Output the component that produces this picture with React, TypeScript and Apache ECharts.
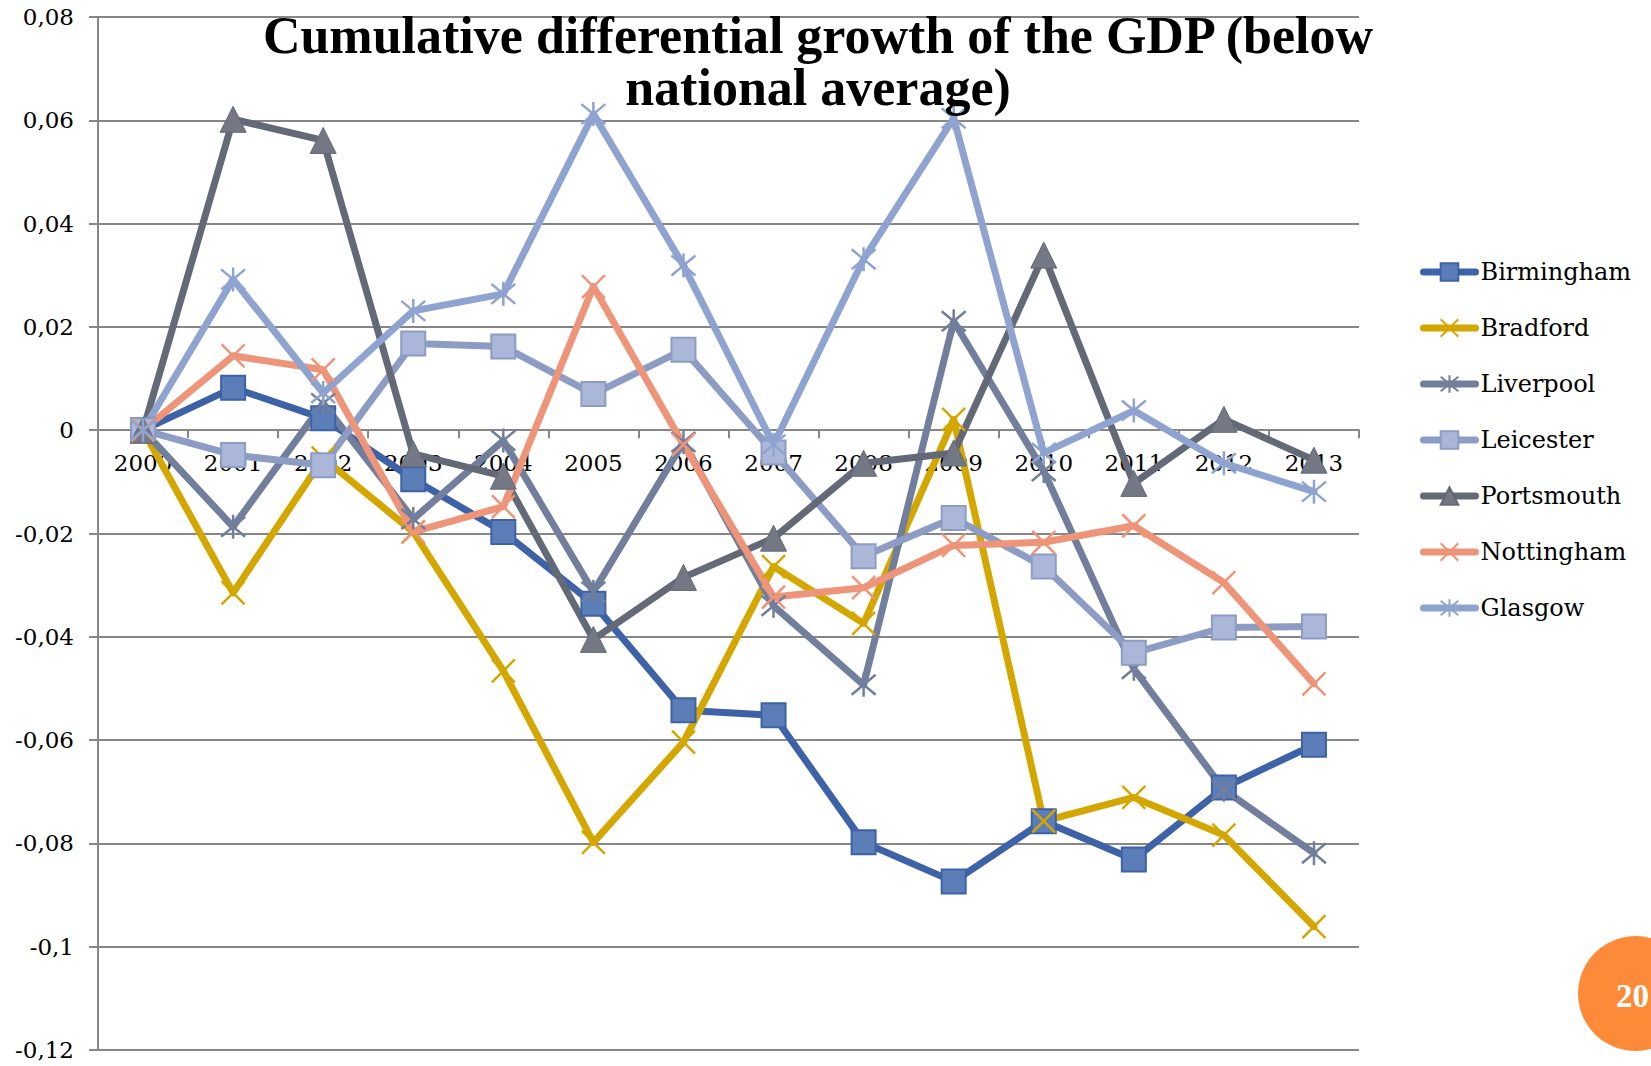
import React, { useEffect, useRef } from "react";
import * as echarts from "echarts";

// Years on the category axis
const years = ["2000", "2001", "2002", "2003", "2004", "2005", "2006", "2007", "2008", "2009", "2010", "2011", "2012", "2013"];

// Cumulative differential GDP growth per city
const birmingham = [0, 0.0082, 0.0023, -0.0095, -0.0197, -0.0336, -0.0542, -0.0552, -0.0798, -0.0874, -0.0757, -0.0831, -0.0692, -0.0609];
const bradford = [0, -0.0315, -0.0054, -0.0197, -0.0466, -0.0798, -0.0604, -0.0264, -0.0374, 0.0021, -0.0757, -0.0711, -0.0784, -0.0961];
const liverpool = [0, -0.0187, 0.0052, -0.0172, -0.002, -0.0313, -0.0023, -0.034, -0.0493, 0.0211, -0.0079, -0.0462, -0.0696, -0.0819];
const leicester = [0, -0.0048, -0.0068, 0.0168, 0.0162, 0.007, 0.0156, -0.0043, -0.0244, -0.017, -0.0264, -0.0431, -0.0382, -0.038];
const portsmouth = [0, 0.0602, 0.0561, -0.0046, -0.0089, -0.0405, -0.0285, -0.0209, -0.0064, -0.0044, 0.0339, -0.0103, 0.0021, -0.0058];
const nottingham = [0, 0.0144, 0.0117, -0.0197, -0.0148, 0.0278, -0.0028, -0.0323, -0.0305, -0.0223, -0.0217, -0.0185, -0.0295, -0.0491];
const glasgow = [0, 0.0292, 0.0072, 0.0231, 0.0264, 0.0612, 0.0319, -0.0028, 0.0331, 0.0604, -0.0044, 0.0038, -0.0064, -0.0119];

// Value axis range
const yMin = -0.12;
const yMax = 0.08;
const yStep = 0.02;

const titleLines = ["Cumulative differential growth of the GDP (below", "national average)"];
const pageNumber = "20";

const X_MARK = "path://M0,0L10,10M10,0L0,10";
const STAR_MARK = "path://M0,0L10,10M10,0L0,10M5,-1L5,11";

const AXIS_FONT = "DejaVu Serif";
const GRID_GRAY = "#868686";

// Canvas and plot box
const WIDTH = 1651;
const HEIGHT = 1066;
const GRID = { left: 98, right: 292, top: 17, bottom: 16 };

function lineSeries(
  name: string,
  data: number[],
  color: string,
  symbol: string,
  symbolSize: number,
  fill: string,
  border: string,
  borderWidth: number
) {
  return {
    name,
    type: "line",
    data,
    symbol,
    symbolSize,
    showAllSymbol: true,
    lineStyle: { color, width: 7, cap: "round", join: "round" },
    itemStyle: { color: fill, borderColor: border, borderWidth },
    emphasis: { disabled: true },
  };
}

export default function App() {
  const ref = useRef<HTMLDivElement>(null);

  useEffect(() => {
    if (!ref.current) return;
    const chart = echarts.init(ref.current, undefined, { renderer: "svg" });

    // Year labels sit just under the zero line, so measure from the plot bottom up to it
    const plotH = HEIGHT - GRID.top - GRID.bottom;
    const zeroY = GRID.top + (yMax / (yMax - yMin)) * plotH;
    const bottomY = HEIGHT - GRID.bottom;
    const yearLabelMargin = zeroY + 21 - bottomY;

    const series = [
      lineSeries("Birmingham", birmingham, "#3D62A8", "rect", 24, "#5B7DB8", "#3D62A8", 2),
      lineSeries("Bradford", bradford, "#D4A600", X_MARK, 23, "none", "#D4A600", 2.5),
      lineSeries("Liverpool", liverpool, "#717F9D", STAR_MARK, 24, "none", "#717F9D", 2.5),
      lineSeries("Leicester", leicester, "#8C9CC4", "rect", 24, "#AAB7D8", "#8C9CC4", 2),
      lineSeries("Portsmouth", portsmouth, "#636977", "triangle", 26, "#737884", "#636977", 1),
      lineSeries("Nottingham", nottingham, "#EE9479", X_MARK, 23, "none", "#EE9479", 2.5),
      lineSeries("Glasgow", glasgow, "#8FA3D0", STAR_MARK, 24, "none", "#8FA3D0", 2.5),
    ];

    chart.setOption({
      animation: false,
      backgroundColor: "#ffffff",
      grid: { ...GRID, containLabel: false },
      xAxis: {
        type: "category",
        data: years,
        boundaryGap: true,
        axisLine: { onZero: true, lineStyle: { color: GRID_GRAY, width: 2 } },
        axisTick: { show: true, length: 8, inside: false, lineStyle: { color: GRID_GRAY, width: 2 } },
        axisLabel: { color: "#000", fontFamily: AXIS_FONT, fontSize: 23, margin: yearLabelMargin },
        splitLine: { show: false },
      },
      yAxis: {
        type: "value",
        min: yMin,
        max: yMax,
        interval: yStep,
        axisLine: { show: true, lineStyle: { color: GRID_GRAY, width: 2 } },
        axisTick: { show: true, length: 9, lineStyle: { color: GRID_GRAY, width: 2 } },
        axisLabel: {
          color: "#000",
          fontFamily: AXIS_FONT,
          fontSize: 23,
          margin: 24,
          formatter: (v: number) => String(Number(v.toFixed(2))).replace(".", ","),
        },
        splitLine: { show: true, lineStyle: { color: GRID_GRAY, width: 2 } },
      },
      legend: {
        orient: "vertical",
        left: 1420,
        top: 260,
        padding: 0,
        itemWidth: 52,
        itemHeight: 22,
        itemGap: 32,
        lineStyle: { width: 7, cap: "round" },
        textStyle: { color: "#000", fontFamily: AXIS_FONT, fontSize: 24 },
        selectedMode: false,
      },
      graphic: [
        {
          type: "text",
          x: 818,
          y: 35,
          z: 10,
          style: {
            text: titleLines[0],
            textAlign: "center",
            textVerticalAlign: "middle",
            font: "bold 52px 'Liberation Serif'",
            fill: "#000",
          },
        },
        {
          type: "text",
          x: 818,
          y: 87,
          z: 10,
          style: {
            text: titleLines[1],
            textAlign: "center",
            textVerticalAlign: "middle",
            font: "bold 52px 'Liberation Serif'",
            fill: "#000",
          },
        },
        {
          type: "circle",
          z: 10,
          shape: { cx: 1635.5, cy: 993.5, r: 57.5 },
          style: { fill: "#FD8A38" },
        },
        {
          type: "text",
          x: 1616,
          y: 996,
          z: 11,
          style: {
            text: pageNumber,
            textAlign: "left",
            textVerticalAlign: "middle",
            font: "bold 33px 'Liberation Serif'",
            fill: "#ffffff",
          },
        },
      ],
      series,
    });

    return () => chart.dispose();
  }, []);

  return (
    <div
      ref={ref}
      style={{ position: "absolute", left: 0, top: 0, width: WIDTH, height: HEIGHT, overflow: "hidden" }}
    />
  );
}
